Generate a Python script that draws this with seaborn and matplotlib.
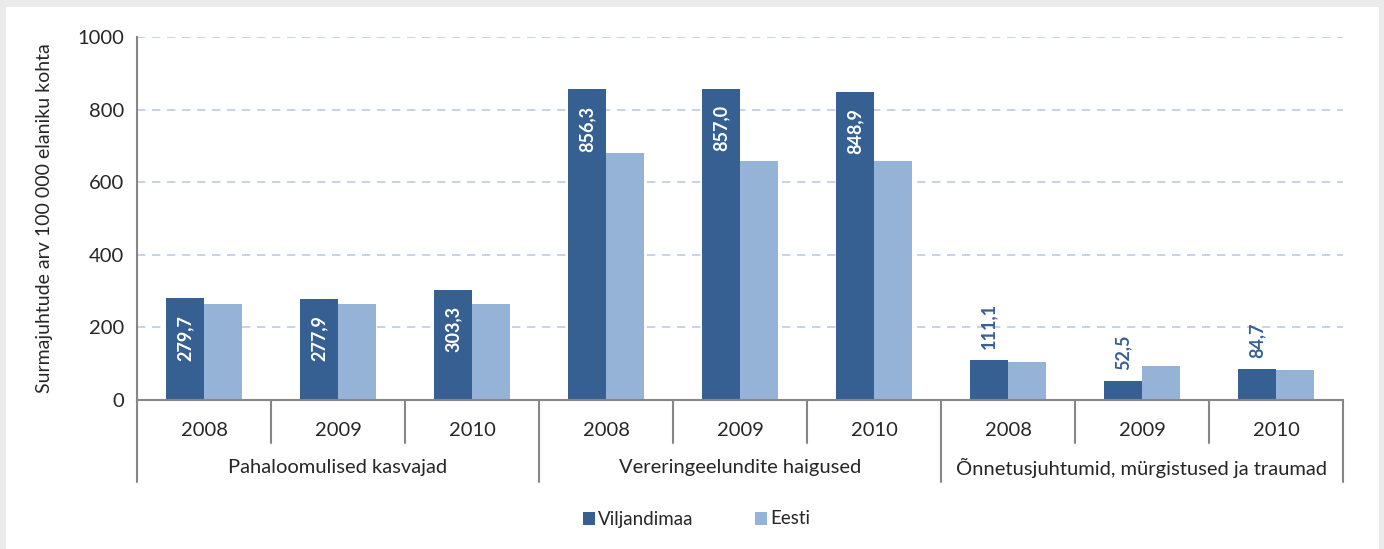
import pandas as pd
import seaborn as sns
import matplotlib.pyplot as plt
from matplotlib.patches import Rectangle

# Chart data
groups = ["Pahaloomulised kasvajad", "Vereringeelundite haigused",
          "Õnnetusjuhtumid, mürgistused ja traumad"]
years = ["2008", "2009", "2010"]
viljandimaa = [279.7, 277.9, 303.3, 856.3, 857.0, 848.9, 111.1, 52.5, 84.7]
eesti = [265, 265, 265, 680, 659, 659, 104, 93, 84]
series = ["Viljandimaa", "Eesti"]

rows = []
slots = []
for gi, g in enumerate(groups):
    for yi, y in enumerate(years):
        slot = f"{g}|{y}"
        slots.append(slot)
        k = gi * 3 + yi
        rows.append({"slot": slot, "series": series[0], "value": viljandimaa[k]})
        rows.append({"slot": slot, "series": series[1], "value": eesti[k]})
df = pd.DataFrame(rows)

sns.set_style("white")
plt.rcParams["font.family"] = ["Lato", "DejaVu Sans"]

fig = plt.figure(figsize=(13.84, 5.49), dpi=100)
fig.patch.set_facecolor("#ebebeb")
fig.patches.append(Rectangle((6 / 1384, 0), 1373 / 1384, 542 / 549,
                             transform=fig.transFigure, facecolor="white",
                             edgecolor="none", zorder=-10))
ax = fig.add_axes([137 / 1384, 1 - 400 / 549, 1206 / 1384, 363 / 549])
ax.set_facecolor("none")

palette = {"Viljandimaa": "#376092", "Eesti": "#95b3d7"}
sns.barplot(data=df, x="slot", y="value", hue="series", order=slots,
            hue_order=series, palette=palette, width=0.57, gap=0,
            saturation=1, edgecolor="none", ax=ax, legend=False)

ax.set_xlim(-0.5, len(slots) - 0.5)
ax.set_ylim(0, 1000)
ax.set_yticks(range(0, 1001, 200))
ax.tick_params(axis="y", labelsize=14.5, length=5, color="#868686",
               direction="out", pad=4)
ax.set_xticks([])
ax.set_xlabel("")
ax.set_ylabel("Surmajuhtude arv 100 000 elaniku kohta", fontsize=14)
ax.yaxis.set_label_coords(-0.07, 0.5)
ax.grid(axis="y", color="#b9cde5", linestyle=(0, (5, 4)), linewidth=1.2)
ax.set_axisbelow(True)
for s in ["top", "right"]:
    ax.spines[s].set_visible(False)
for s in ["left", "bottom"]:
    ax.spines[s].set_color("#868686")
    ax.spines[s].set_linewidth(1.5)

# value labels for Viljandimaa
bw = 0.57 / 2
for i, v in enumerate(viljandimaa):
    x = i - bw / 2
    if v > 200:
        ax.text(x, v - 45, f"{v:.1f}".replace(".", ","), rotation=90,
                ha="center", va="top", color="white", fontsize=13,
                fontweight="bold")
    else:
        ax.text(x, v + 30, f"{v:.1f}".replace(".", ","), rotation=90,
                ha="center", va="bottom", color="#376092", fontsize=13,
                fontweight="bold")

# multi-level category axis
trans = ax.get_xaxis_transform()
yy = lambda px: -(px - 400) / 363
for i in range(len(slots) + 1):
    depth = 82 if i % 3 == 0 else 43
    ax.plot([i - 0.5, i - 0.5], [0, yy(400 + depth)], transform=trans,
            color="#868686", lw=1.5, clip_on=False)
for i, s in enumerate(slots):
    ax.text(i, yy(431), s.split("|")[1], transform=trans, ha="center",
            va="center", fontsize=14.5)
for gi, g in enumerate(groups):
    ax.text(gi * 3 + 1, yy(468), g, transform=trans, ha="center",
            va="center", fontsize=14.5)

# legend
for name, xpx in [("Viljandimaa", 583), ("Eesti", 755)]:
    fig.patches.append(Rectangle((xpx / 1384, 1 - 525 / 549), 12 / 1384, 13 / 549,
                                 transform=fig.transFigure,
                                 facecolor=palette[name], edgecolor="none"))
    fig.text((xpx + 15) / 1384, 1 - 519 / 549, name, ha="left", va="center",
             fontsize=13.5)

fig.savefig("out.png", dpi=100, facecolor=fig.get_facecolor())
